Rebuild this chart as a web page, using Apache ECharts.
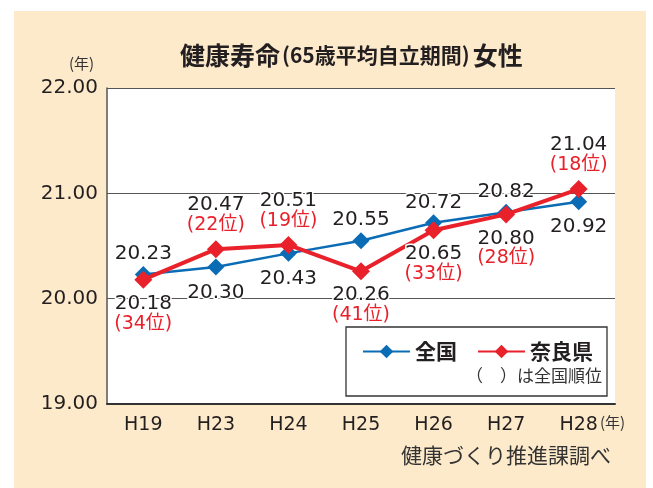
<!DOCTYPE html>
<html><head><meta charset="utf-8">
<script src="https://cdn.jsdelivr.net/npm/echarts@6/dist/echarts.min.js"></script>
<style>html,body{margin:0;padding:0;background:#fff}#c{width:653px;height:488px}</style>
</head><body><div id="c"></div>
<script>
const categories = ['H19','H23','H24','H25','H26','H27','H28'];
const nationalValues = [20.23, 20.30, 20.43, 20.55, 20.72, 20.82, 20.92];
const naraValues = [20.18, 20.47, 20.51, 20.26, 20.65, 20.80, 21.04];
const naraRanks = [34, 22, 19, 41, 33, 28, 18];
const yTicks = [19, 20, 21, 22];

// label placement (style)
const nationalLabelPos = ['top','bottom','bottom','top','top','top','bottom'];
const naraLabelPos = ['bottom','top','top','bottom','bottom','bottom','top'];

const CJK = '"Noto Sans CJK JP", sans-serif';
const NUM = '"DejaVu Sans", "Noto Sans CJK JP", sans-serif';
const BLUE = '#0b6cb6';
const RED = '#e8212b';
const INK = '#231f20';

const chart = echarts.init(document.getElementById('c'), null, {renderer:'canvas'});

const nationalData = nationalValues.map((v, i) => ({
  value: v,
  label: {
    show: true,
    position: nationalLabelPos[i],
    distance: nationalLabelPos[i] === 'top' ? 2 : 7,
    formatter: v.toFixed(2),
    fontSize: 20, color: INK, fontFamily: NUM, lineHeight: 20,
    textBorderColor: '#fff', textBorderWidth: 3
  }
}));
const naraData = naraValues.map((v, i) => ({
  value: v,
  label: {
    show: true,
    position: naraLabelPos[i],
    distance: 5,
    formatter: '{v|' + v.toFixed(2) + '}\n{r|(' + naraRanks[i] + '位)}',
    fontFamily: NUM,
    rich: {
      v: {fontSize: 20, color: INK, lineHeight: 20, fontFamily: NUM, textBorderColor:'#fff', textBorderWidth:3},
      r: {fontSize: 19, color: RED, lineHeight: 20, fontFamily: NUM, textBorderColor:'#fff', textBorderWidth:3}
    }
  }
}));

chart.setOption({
  animation: false,
  backgroundColor: '#fff',
  textStyle: {fontFamily: CJK},
  title: {
    left: 175, top: 38,
    text: '{a|健康寿命}{b|(65歳平均自立期間)}{a|女性}',
    textStyle: {
      rich: {
        a: {fontSize: 25, fontWeight: 'bold', color: INK, fontFamily: CJK},
        b: {fontSize: 21, fontWeight: 'bold', color: INK, fontFamily: CJK, padding: [0, 3, 0, 2]}
      }
    }
  },
  graphic: [
    {type:'rect', z:-10, silent:true, shape:{x:14, y:11, width:632, height:477}, style:{fill:'#fdeacb'}},
    {type:'rect', z:-9, silent:true, shape:{x:107, y:88, width:508, height:316}, style:{fill:'#fff'}},
    {type:'rect', z:1, silent:true, shape:{x:346, y:327, width:261, height:69}, style:{fill:'#fff', stroke:'#333', lineWidth:1.3}},
    {type:'text', z:5, left:466, top:367, style:{text:'（　）は全国順位', fontSize:17, fill:'#333', fontFamily:CJK}},
    {type:'text', z:5, left:69, top:56, style:{text:'(年)', fontSize:15, fill:'#333', fontFamily:CJK}},
    {type:'text', z:5, left:600, top:415, style:{text:'(年)', fontSize:15, fill:'#333', fontFamily:CJK}},
    {type:'text', z:5, left:401, top:445, style:{text:'健康づくり推進課調べ', fontSize:21, fill:'#333', fontFamily:CJK}}
  ],
  legend: {
    left: 357, top: 336,
    itemWidth: 47, itemHeight: 17, itemGap: 20,
    textStyle: {fontSize: 21, fontWeight: 'bold', color: INK, fontFamily: CJK},
    data: ['全国', '奈良県']
  },
  grid: {left: 107, right: 38, top: 88, bottom: 84, containLabel: false},
  xAxis: {
    type: 'category',
    data: categories,
    boundaryGap: true,
    axisLine: {lineStyle: {color: '#333', width: 2}},
    axisTick: {show: false},
    axisLabel: {fontSize: 19, color: INK, margin: 12, fontFamily: NUM}
  },
  yAxis: {
    type: 'value',
    min: yTicks[0], max: yTicks[yTicks.length - 1], interval: 1,
    axisLine: {show: true, lineStyle: {color: '#555', width: 1.5}},
    axisTick: {show: false},
    axisLabel: {fontSize: 20, color: INK, margin: 9, fontFamily: NUM, formatter: v => v.toFixed(2)},
    splitLine: {lineStyle: {color: '#555', width: 1}}
  },
  series: [
    {
      name: '全国', type: 'line', data: nationalData,
      symbol: 'diamond', symbolSize: 17,
      lineStyle: {color: BLUE, width: 2.5},
      itemStyle: {color: BLUE},
      z: 3
    },
    {
      name: '奈良県', type: 'line', data: naraData,
      symbol: 'diamond', symbolSize: 18,
      lineStyle: {color: RED, width: 4},
      itemStyle: {color: RED},
      z: 4
    }
  ]
});
</script></body></html>
